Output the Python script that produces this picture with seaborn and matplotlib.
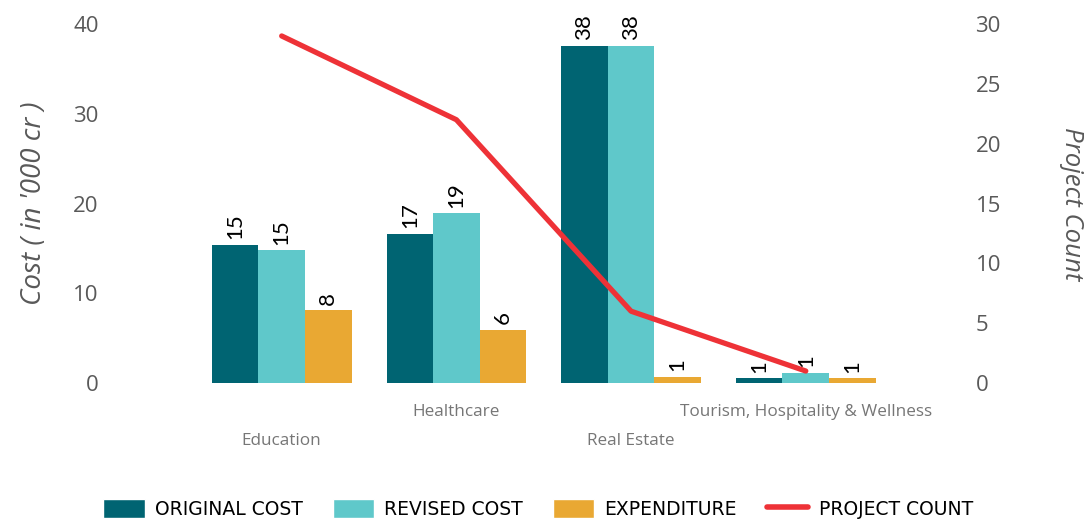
import pandas as pd
import numpy as np
import matplotlib
matplotlib.use("Agg")
import matplotlib.pyplot as plt
import seaborn as sns
from matplotlib.patches import Patch
from matplotlib.lines import Line2D

# data
sectors = ["Education", "Healthcare", "Real Estate", "Tourism, Hospitality & Wellness"]
original_cost = [15.4, 16.6, 37.6, 0.55]
revised_cost = [14.8, 18.9, 37.6, 1.15]
expenditure = [8.1, 5.9, 0.7, 0.55]
project_count = [29, 22, 6, 1]

series_names = ["ORIGINAL COST", "REVISED COST", "EXPENDITURE"]
colors = ["#006472", "#5FC8CA", "#E9A833"]
line_color = "#EE3237"

df = pd.DataFrame({
    "sector": sectors * 3,
    "metric": np.repeat(series_names, len(sectors)),
    "value": original_cost + revised_cost + expenditure,
})

sns.set_style("white")
plt.rcParams["font.family"] = ["Open Sans", "DejaVu Sans"]

fig = plt.figure(figsize=(10.87, 5.28), dpi=100)
ax = fig.add_axes([107 / 1087, 1 - 383 / 528, (963 - 107) / 1087, (383 - 24) / 528])

sns.barplot(data=df, x="sector", y="value", hue="metric", palette=colors,
            saturation=1, width=0.8, linewidth=0, ax=ax, legend=False)

for cont in ax.containers:
    ax.bar_label(cont, fmt="%.0f", rotation=90, padding=4, fontsize=16,
                 family=["Lato", "DejaVu Sans"], color="black")

ax.set_xlim(-1.0, 3.9)
ax.set_ylim(0, 40)
ax.set_yticks([0, 10, 20, 30, 40])
ax.set_xlabel("")
ax.set_ylabel("Cost ( in '000 cr )", fontsize=20, style="italic", color="#595959", labelpad=18)
ax.tick_params(axis="y", length=0, pad=6, labelsize=16, labelcolor="#595959")
ax.tick_params(axis="x", length=0, labelsize=12.3, labelcolor="#767676")
for i, tick in enumerate(ax.xaxis.get_major_ticks()):
    tick.set_pad(36 if i % 2 == 0 else 15)
sns.despine(ax=ax, left=True, bottom=True)

ax2 = ax.twinx()
sns.lineplot(x=np.arange(len(sectors)), y=project_count, color=line_color,
             linewidth=3.8, ax=ax2)
ax2.set_ylim(0, 30)
ax2.set_yticks([0, 5, 10, 15, 20, 25, 30])
ax2.set_ylabel("Project Count", fontsize=18.5, style="italic", color="#595959",
               rotation=270, labelpad=60)
ax2.tick_params(axis="y", length=0, pad=9, labelsize=16, labelcolor="#595959")
for s in ax2.spines.values():
    s.set_visible(False)

handles = [Patch(facecolor=c) for c in colors] + [Line2D([0], [0], color=line_color, linewidth=4)]
labels = series_names + ["PROJECT COUNT"]
fig.legend(handles, labels, loc="center", bbox_to_anchor=(0.495, 1 - 509 / 528), ncol=4,
           frameon=False, handlelength=2.2, handleheight=1.2, handletextpad=0.55,
           columnspacing=1.6, labelcolor="black",
           prop={"family": ["DejaVu Sans"], "size": 13.5})

fig.savefig("out.png", dpi=100)
